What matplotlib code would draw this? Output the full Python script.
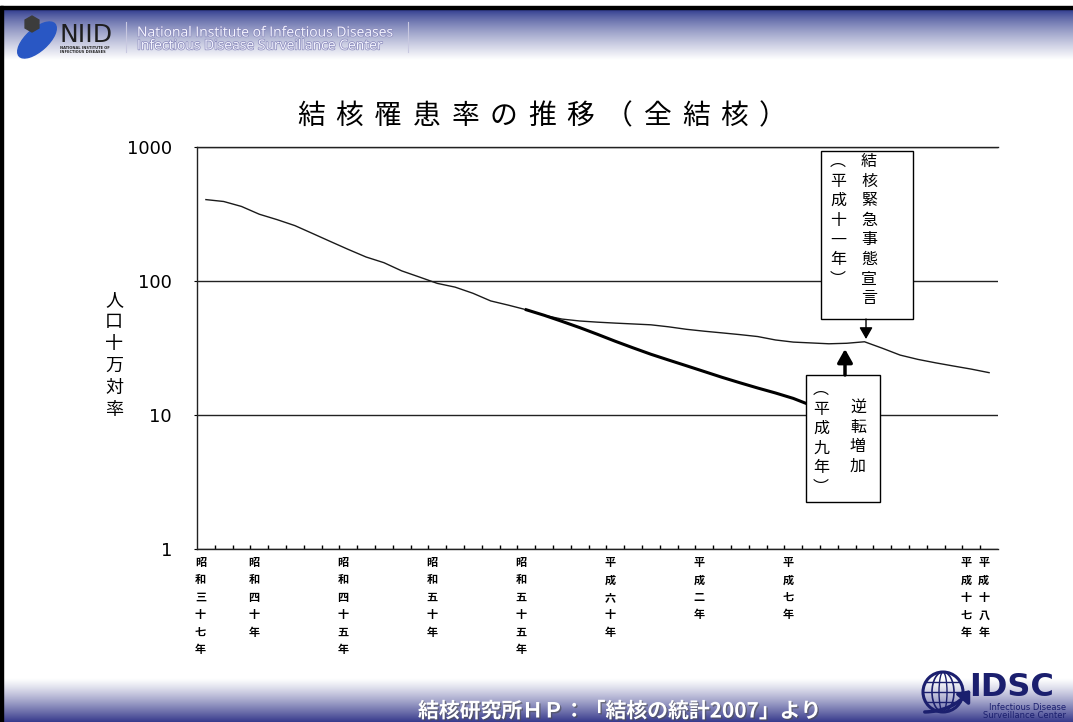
import numpy as np
import matplotlib.pyplot as plt
import matplotlib.patheffects as pe
from matplotlib.patches import Rectangle, Ellipse, Circle, RegularPolygon
from matplotlib.ticker import FixedLocator, NullLocator

plt.rcParams['font.family'] = ['Noto Sans CJK JP', 'DejaVu Sans']

# data ---------------------------------------------------------------
years = list(range(1962, 2007))
incidence = [405, 392, 360, 315, 287, 259, 226, 197, 172, 151,
             137, 119, 107, 96, 90, 81, 71, 66, 61, 55.5,
             52, 50.3, 49.3, 48.5, 47.8, 47.1, 45.5, 43.6, 42.2, 41.0,
             39.8, 38.5, 36.3, 35.0, 34.5, 34.0, 34.3, 35.2, 31.5, 28.0,
             26.0, 24.5, 23.2, 22.0, 20.7]
# trend line if the pre-1980 decline had continued
proj_years = list(range(1980, 1997))
projection = [61, 55.5, 50, 44.9, 40.0, 35.5, 31.7, 28.4, 25.7, 23.3,
              21.1, 19.1, 17.4, 15.9, 14.6, 13.3, 11.8]

tick_years = [1962, 1965, 1970, 1975, 1980, 1985, 1990, 1995, 2005, 2006]
tick_labels = ['昭和三十七年', '昭和四十年', '昭和四十五年', '昭和五十年',
               '昭和五十五年', '平成六十年', '平成二年', '平成七年',
               '平成十七年', '平成十八年']
y_ticks = [1, 10, 100, 1000]

W, H = 1073, 722
navy = '#1b1f6e'

fig = plt.figure(figsize=(W / 100, H / 100), dpi=100)

# background: header / footer gradients
bg = fig.add_axes([0, 0, 1, 1])
g = np.linspace(0, 1, 120)[:, None, None]
dark = np.array([40, 52, 138]) / 255.0
head = dark * (1 - g ** 0.75) + g ** 0.75
bg.imshow(head, extent=[0, W, 60, 9], aspect='auto')
foot_dark = np.array([55, 58, 140]) / 255.0
foot = (1 - g ** 1.2) + foot_dark * g ** 1.2
bg.imshow(foot, extent=[0, W, 722, 678], aspect='auto')
bg.add_patch(Rectangle((0, 6), W, 3, color='black'))
bg.add_patch(Rectangle((0, 6), 3, H, color='black'))
bg.set_xlim(0, W)
bg.set_ylim(H, 0)
bg.axis('off')

# main chart
ax = fig.add_axes([197 / W, (H - 549) / H, 801 / W, 402 / H])
x = np.arange(len(years))
xp = np.array(proj_years) - years[0]
ax.plot(x, incidence, color='#1a1a1a', lw=1.0)
ax.plot(xp, projection, color='black', lw=2.2)

ax.set_yscale('log')
ax.set_ylim(1, 1000)
ax.set_xlim(-0.5, len(years) - 0.5)
ax.yaxis.set_major_locator(FixedLocator(y_ticks))
ax.yaxis.set_minor_locator(NullLocator())
ax.set_yticklabels([str(v) for v in y_ticks], fontfamily='DejaVu Sans', fontsize=13)
ax.tick_params(axis='y', length=2, pad=16)
ax.grid(axis='y', color='#222222', lw=1.0)

ax.set_xticks(np.arange(0.5, len(years) - 1, 1))
ax.set_xticklabels([])
ax.tick_params(axis='x', which='major', direction='in', length=3, width=1)
pos = [y - years[0] - 0.3 for y in tick_years]
ax.set_xticks(pos, minor=True)
ax.set_xticklabels(['\n'.join(s) for s in tick_labels], minor=True,
                   fontsize=8, fontweight='bold')
ax.tick_params(axis='x', which='minor', length=0, pad=5)
for lbl in ax.get_xticklabels(minor=True):
    lbl.set_linespacing(1.45)
    lbl.set_verticalalignment('top')

ax.spines['right'].set_visible(False)
for s in ['left', 'bottom', 'top']:
    ax.spines[s].set_linewidth(1.0)
    ax.spines[s].set_color('#222222')

# overlay: titles, call-outs, logos
ov = fig.add_axes([0, 0, 1, 1])
ov.set_xlim(0, W)
ov.set_ylim(H, 0)
ov.axis('off')

title = '結核罹患率の推移（全結核）'
for i, ch in enumerate(title):
    ov.text(311 + 38.5 * i, 116, ch, fontsize=20, ha='center', va='center')

ov.text(114, 355, '\n'.join('人口十万対率'), fontsize=13, ha='center',
        va='center', linespacing=1.28)

# call-out 1
ov.add_patch(Rectangle((821, 151), 92, 168, fc='white', ec='black', lw=1, zorder=3))
ov.text(869, 153, '\n'.join('結核緊急事態宣言'), fontsize=11.5, ha='center',
        va='top', linespacing=1.2, zorder=4)
ov.text(838, 153, '\n'.join('︵平成十一年︶'), fontsize=11.5, ha='center',
        va='top', linespacing=1.2, zorder=4)
ov.annotate('', xy=(866, 339), xytext=(866, 319),
            arrowprops=dict(arrowstyle='-|>,head_length=0.7,head_width=0.4',
                            color='black', lw=1, shrinkA=0, shrinkB=0,
                            mutation_scale=10))

# call-out 2
ov.add_patch(Rectangle((806, 375), 74, 127, fc='white', ec='black', lw=1, zorder=3))
ov.text(821, 381, '\n'.join('︵平成九年︶'), fontsize=11.5, ha='center',
        va='top', linespacing=1.2, zorder=4)
ov.text(858, 399, '\n'.join('逆転増加'), fontsize=11.5, ha='center',
        va='top', linespacing=1.2, zorder=4)
ov.annotate('', xy=(845, 349), xytext=(845, 375),
            arrowprops=dict(arrowstyle='-|>,head_length=0.8,head_width=0.45',
                            color='black', lw=2.5, shrinkA=0, shrinkB=0,
                            mutation_scale=10))

# header logo + text
ov.add_patch(Ellipse((37, 40), 48, 22, angle=-42, color='#2957c4'))
ov.add_patch(RegularPolygon((32, 24), 6, radius=8, color='#3c3c3c'))
ov.text(59, 35, 'NIID', fontsize=18, fontfamily='DejaVu Sans', color='#1e1e1e',
        va='center', ha='left')
ov.text(60, 48, 'NATIONAL INSTITUTE OF', fontsize=2.6, fontweight='bold',
        fontfamily='DejaVu Sans', color='#222222', va='center')
ov.text(60, 52, 'INFECTIOUS DISEASES', fontsize=2.6, fontweight='bold',
        fontfamily='DejaVu Sans', color='#222222', va='center')
ov.plot([126, 126], [22, 52], color='#c8c8e0', lw=0.8)
ov.plot([408, 408], [22, 52], color='#c8c8e0', lw=0.8)
halo = [pe.withStroke(linewidth=1.0, foreground='#8a8abc')]
ov.text(137, 33, 'National Institute of Infectious Diseases', fontsize=10,
        fontfamily='Open Sans', color='#f4f4ff', va='center', path_effects=halo)
ov.text(137, 46, 'Infectious Disease Surveillance Center', fontsize=10,
        fontfamily='Open Sans', color='#f4f4ff', va='center', path_effects=halo)

# footer text + IDSC logo
ov.text(620, 711, '結核研究所ＨＰ：「結核の統計2007」より', fontsize=15,
        fontweight='bold', color='white', ha='center', va='center',
        path_effects=[pe.withSimplePatchShadow(offset=(1, -1), alpha=0.6)])
ov.add_patch(Circle((943, 692), 20, fill=False, ec=navy, lw=2.2))
ov.add_patch(Ellipse((943, 692), 22, 40, fill=False, ec=navy, lw=1.2))
ov.add_patch(Ellipse((943, 692), 8, 40, fill=False, ec=navy, lw=1.0))
for yy in (682, 692, 702):
    half = np.sqrt(20 ** 2 - (yy - 692) ** 2)
    ov.plot([943 - half, 943 + half], [yy, yy], color=navy, lw=1.0)
ov.annotate('', xy=(972, 688), xytext=(922, 712),
            arrowprops=dict(arrowstyle='-|>,head_length=0.6,head_width=0.5',
                            color=navy, lw=2.5, mutation_scale=10,
                            connectionstyle='arc3,rad=0.25'))
ov.text(1012, 687, 'IDSC', fontsize=23, fontweight='bold', fontfamily='DejaVu Sans',
        color=navy, ha='center', va='center')
ov.text(1066, 707, 'Infectious Disease', fontsize=6, fontfamily='DejaVu Sans',
        color=navy, ha='right', va='center')
ov.text(1066, 716, 'Surveillance Center', fontsize=6, fontfamily='DejaVu Sans',
        color=navy, ha='right', va='center')

fig.savefig('out.png', dpi=100)
